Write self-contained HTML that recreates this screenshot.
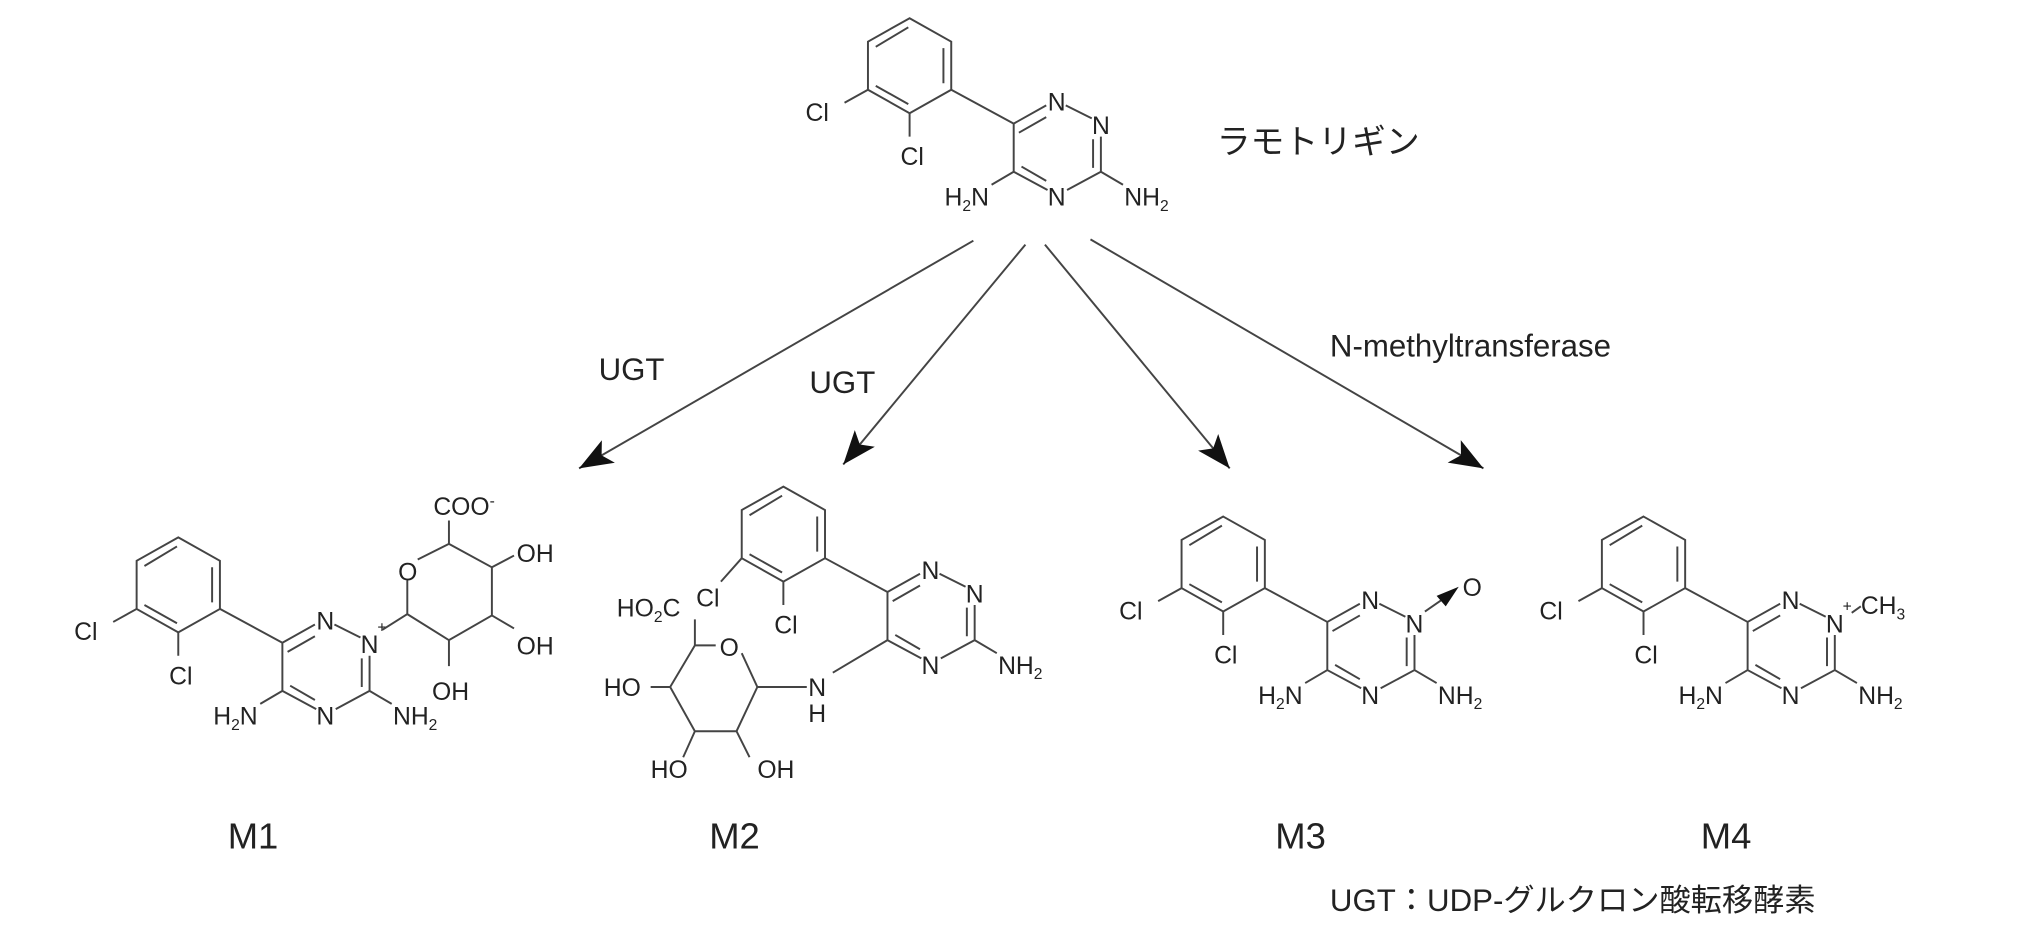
<!DOCTYPE html>
<html><head><meta charset="utf-8"><style>
html,body{margin:0;padding:0;background:#fff;}
svg{display:block;}
text{font-family:"Liberation Sans","Noto Sans CJK JP",sans-serif;fill:#222;}
.l{stroke:#444;stroke-width:1.5;fill:none;}
.a{font-size:19px;}
.s{font-size:12px;}
</style></head><body>
<svg width="2030" height="942" viewBox="0 0 1560 724" preserveAspectRatio="none" xmlns="http://www.w3.org/2000/svg">
<defs>
<marker id="ah" markerUnits="userSpaceOnUse" markerWidth="30" markerHeight="22" refX="26" refY="10" orient="auto">
<path d="M0,0 L26,10 L0,20 L6,10 Z" fill="#111"/>
</marker>
</defs>

<!-- TOP -->
<g transform="translate(-241,-383)">
<polygon class="l" points="940,397 972,415 972,452 940,470 908,452 908,415"/>
<path class="l" d="M914,419 L939,404 M966,420 L966,447 M939,463 L914,449 M908,452 L890,462 M940,470 L940,488 M972,452 L1020,478"/>
<text class="a" x="860" y="476">Cl</text><text class="a" x="933" y="510">Cl</text>
<path class="l" d="M1020,478 L1045,464 M1024,485 L1045,473 M1060,464 L1080,474 M1087,488 L1087,515 M1081,490 L1081,512 M1087,515 L1061,529 M1046,529 L1020,515 M1045,522 L1026,511 M1020,515 L1020,478 M1020,515 L1003,525 M1087,515 L1104,525"/>
<text class="a" x="1053" y="468" text-anchor="middle">N</text>
<text class="a" x="1087" y="486" text-anchor="middle">N</text>
<text class="a" x="1053" y="541" text-anchor="middle">N</text>
<text class="a" x="1001" y="541" text-anchor="end">H<tspan class="s" dy="4">2</tspan><tspan dy="-4">N</tspan></text>
<text class="a" x="1105" y="541">NH<tspan class="s" dy="4">2</tspan></text>
</g>
<text x="935" y="118" style="font-size:26px">ラモトリギン</text>

<!-- ARROWS -->
<path class="l" stroke="#333" d="M748,185 L445,360" marker-end="url(#ah)"/>
<path class="l" stroke="#333" d="M788,188 L648,357" marker-end="url(#ah)"/>
<path class="l" stroke="#333" d="M803,188 L945,360" marker-end="url(#ah)"/>
<path class="l" stroke="#333" d="M838,184 L1140,360" marker-end="url(#ah)"/>
<text x="460" y="292" style="font-size:24px">UGT</text>
<text x="622" y="302" style="font-size:24px">UGT</text>
<text x="1022" y="274" style="font-size:24px">N-methyltransferase</text>

<!-- M1 -->
<g transform="translate(-803,16)">
<polygon class="l" points="940,397 972,415 972,452 940,470 908,452 908,415"/>
<path class="l" d="M914,419 L939,404 M966,420 L966,447 M939,463 L914,449 M908,452 L890,462 M940,470 L940,488 M972,452 L1020,478"/>
<text class="a" x="860" y="476">Cl</text><text class="a" x="933" y="510">Cl</text>
<path class="l" d="M1020,478 L1045,464 M1024,485 L1045,473 M1060,464 L1080,474 M1087,488 L1087,515 M1081,490 L1081,512 M1087,515 L1061,529 M1046,529 L1020,515 M1045,522 L1026,511 M1020,515 L1020,478 M1020,515 L1003,525 M1087,515 L1104,525"/>
<text class="a" x="1053" y="468" text-anchor="middle">N</text>
<text class="a" x="1087" y="486" text-anchor="middle">N</text>
<text class="s" x="1093" y="470">+</text>
<text class="a" x="1053" y="541" text-anchor="middle">N</text>
<text class="a" x="1001" y="541" text-anchor="end">H<tspan class="s" dy="4">2</tspan><tspan dy="-4">N</tspan></text>
<text class="a" x="1105" y="541">NH<tspan class="s" dy="4">2</tspan></text>
</g>
<path class="l" d="M294,484 L313,472 L313,446 M321,430 L345,418 L378,436 L378,473 L345,492 L313,472 M345,418 L345,400 M378,436 L395,427 M378,473 L395,483 M345,492 L345,512"/>
<text class="a" x="306" y="446">O</text>
<text class="a" x="333" y="396">COO<tspan class="s" dy="-7">-</tspan></text>
<text class="a" x="397" y="432">OH</text>
<text class="a" x="397" y="503">OH</text>
<text class="a" x="332" y="538">OH</text>

<!-- M2 -->
<g transform="translate(-338,-23)">
<polygon class="l" points="940,397 972,415 972,452 940,470 908,452 908,415"/>
<path class="l" d="M914,419 L939,404 M966,420 L966,447 M939,463 L914,449 M908,452 L892,470 M940,470 L940,488 M972,452 L1020,478"/>
<text class="a" x="873" y="489">Cl</text><text class="a" x="933" y="510">Cl</text>
<path class="l" d="M1020,478 L1045,464 M1024,485 L1045,473 M1060,464 L1080,474 M1087,488 L1087,515 M1081,490 L1081,512 M1087,515 L1061,529 M1046,529 L1020,515 M1045,522 L1026,511 M1020,515 L1020,478 M1087,515 L1104,525 M1020,515 L978,540"/>
<text class="a" x="1053" y="468" text-anchor="middle">N</text>
<text class="a" x="1087" y="486" text-anchor="middle">N</text>
<text class="a" x="1053" y="541" text-anchor="middle">N</text>
<text class="a" x="1105" y="541">NH<tspan class="s" dy="4">2</tspan></text>
</g>
<text class="a" x="628" y="535" text-anchor="middle">N</text>
<text class="a" x="628" y="555" text-anchor="middle">H</text>
<path class="l" d="M534,496 L550,496 M570,502 L582,528 L566,562 L534,562 L515,528 L534,496 M582,528 L620,528 M534,496 L534,476 M515,528 L500,528 M534,562 L525,582 M566,562 L576,582"/>
<text class="a" x="553" y="504">O</text>
<text class="a" x="474" y="474">HO<tspan class="s" dy="4">2</tspan><tspan dy="-4">C</tspan></text>
<text class="a" x="464" y="535">HO</text>
<text class="a" x="500" y="598">HO</text>
<text class="a" x="582" y="598">OH</text>

<!-- M3 -->
<g>
<polygon class="l" points="940,397 972,415 972,452 940,470 908,452 908,415"/>
<path class="l" d="M914,419 L939,404 M966,420 L966,447 M939,463 L914,449 M908,452 L890,462 M940,470 L940,488 M972,452 L1020,478"/>
<text class="a" x="860" y="476">Cl</text><text class="a" x="933" y="510">Cl</text>
<path class="l" d="M1020,478 L1045,464 M1024,485 L1045,473 M1060,464 L1080,474 M1087,488 L1087,515 M1081,490 L1081,512 M1087,515 L1061,529 M1046,529 L1020,515 M1045,522 L1026,511 M1020,515 L1020,478 M1020,515 L1003,525 M1087,515 L1104,525"/>
<text class="a" x="1053" y="468" text-anchor="middle">N</text>
<text class="a" x="1087" y="486" text-anchor="middle">N</text>
<text class="a" x="1053" y="541" text-anchor="middle">N</text>
<text class="a" x="1001" y="541" text-anchor="end">H<tspan class="s" dy="4">2</tspan><tspan dy="-4">N</tspan></text>
<text class="a" x="1105" y="541">NH<tspan class="s" dy="4">2</tspan></text>
<path class="l" d="M1095,470 L1108,461"/>
<polygon points="1104,458 1121,451 1111,466" fill="#111"/>
<text class="a" x="1124" y="458">O</text>
</g>

<!-- M4 -->
<g transform="translate(323,0)">
<polygon class="l" points="940,397 972,415 972,452 940,470 908,452 908,415"/>
<path class="l" d="M914,419 L939,404 M966,420 L966,447 M939,463 L914,449 M908,452 L890,462 M940,470 L940,488 M972,452 L1020,478"/>
<text class="a" x="860" y="476">Cl</text><text class="a" x="933" y="510">Cl</text>
<path class="l" d="M1020,478 L1045,464 M1024,485 L1045,473 M1060,464 L1080,474 M1087,488 L1087,515 M1081,490 L1081,512 M1087,515 L1061,529 M1046,529 L1020,515 M1045,522 L1026,511 M1020,515 L1020,478 M1020,515 L1003,525 M1087,515 L1104,525 M1100,471 L1107,466"/>
<text class="a" x="1053" y="468" text-anchor="middle">N</text>
<text class="a" x="1087" y="486" text-anchor="middle">N</text>
<text class="s" x="1093" y="470">+</text>
<text class="a" x="1107" y="472">CH<tspan class="s" dy="4">3</tspan></text>
<text class="a" x="1053" y="541" text-anchor="middle">N</text>
<text class="a" x="1001" y="541" text-anchor="end">H<tspan class="s" dy="4">2</tspan><tspan dy="-4">N</tspan></text>
<text class="a" x="1105" y="541">NH<tspan class="s" dy="4">2</tspan></text>
</g>

<!-- Labels -->
<text x="175" y="652" style="font-size:28px">M1</text>
<text x="545" y="652" style="font-size:28px">M2</text>
<text x="980" y="652" style="font-size:28px">M3</text>
<text x="1307" y="652" style="font-size:28px">M4</text>
<text x="1022" y="700" style="font-size:24px">UGT：UDP-グルクロン酸転移酵素</text>
</svg>
</body></html>
